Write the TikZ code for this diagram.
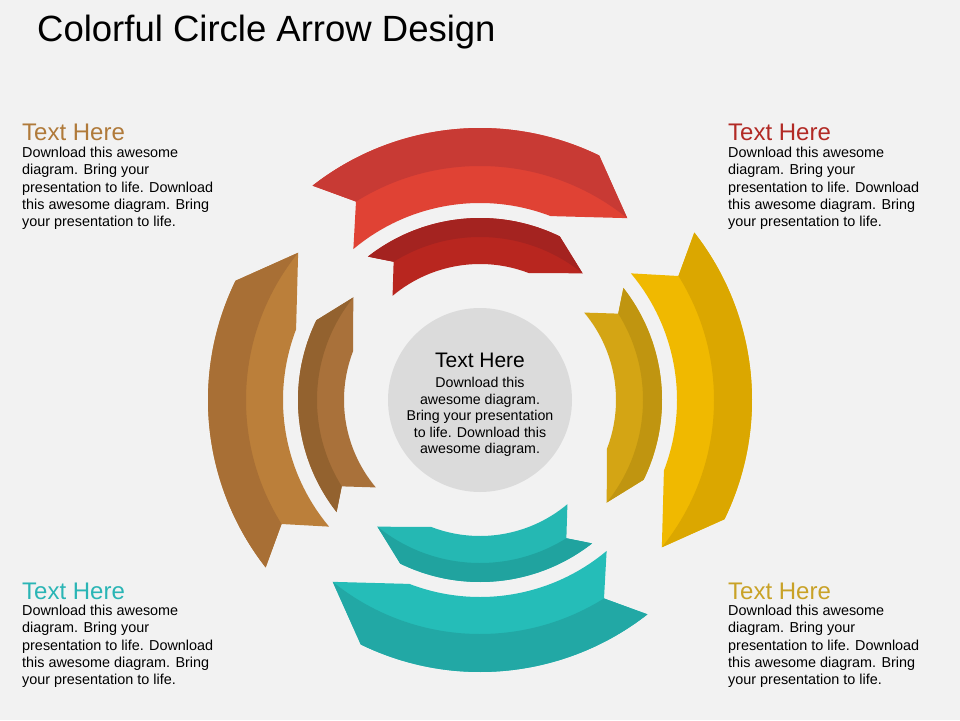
\documentclass[tikz,border=0pt]{standalone}
\usepackage{fontspec}
\setmainfont{Liberation Sans}
\definecolor{bg}{HTML}{F2F2F2}
\definecolor{rOd}{HTML}{C83A34}\definecolor{rOl}{HTML}{E04234}
\definecolor{rId}{HTML}{A42320}\definecolor{rIl}{HTML}{B8261F}
\definecolor{yOd}{HTML}{DBA700}\definecolor{yOl}{HTML}{F0B900}
\definecolor{yId}{HTML}{C09510}\definecolor{yIl}{HTML}{D4A514}
\definecolor{tOd}{HTML}{22A8A5}\definecolor{tOl}{HTML}{25BDB8}
\definecolor{tId}{HTML}{20A39F}\definecolor{tIl}{HTML}{25B8B3}
\definecolor{bOd}{HTML}{A86F35}\definecolor{bOl}{HTML}{BB7F3A}
\definecolor{bId}{HTML}{93622F}\definecolor{bIl}{HTML}{A9713A}
\definecolor{hBr}{HTML}{B07A3A}\definecolor{hRe}{HTML}{B22A25}
\definecolor{hTe}{HTML}{2AB5B5}\definecolor{hGo}{HTML}{C9A227}
% #1 rot, #2 Ri, #3 Rm, #4 Ro, #5 unused, #6 light, #7 dark
\newcommand{\arrowband}[7]{%
\begin{scope}[rotate=#1]
\fill[#6] (130:#2) -- (122:#3) -- (128:#4) arc[start angle=128,end angle=64,radius=#4]
  -- (51:#3) -- (69:#2) arc[start angle=69,end angle=130,radius=#2] -- cycle;
\fill[#7] (122:#3) -- (128:#4) arc[start angle=128,end angle=64,radius=#4]
  -- (51:#3) arc[start angle=51,end angle=122,radius=#3] -- cycle;
\end{scope}}
\tikzset{head/.style={anchor=base west,font=\fontsize{24}{28}\selectfont},
 body/.style={anchor=north west,align=left,inner sep=0pt,font=\fontsize{14.4}{17.3}\selectfont}}
\begin{document}
\begin{tikzpicture}[x=1pt,y=1pt]
\fill[bg] (-480,-320) rectangle (480,400);
\useasboundingbox (-480,-320) rectangle (480,400);
\node[anchor=base west,inner sep=0pt,font=\fontsize{36.5}{42}\selectfont] (title) at (-443,358) {Colorful Circle Arrow Design};
\arrowband{0}{197}{234}{272}{277}{rOl}{rOd}
\arrowband{-90}{197}{234}{272}{277}{yOl}{yOd}
\arrowband{-180}{197}{234}{272}{277}{tOl}{tOd}
\arrowband{-270}{197}{234}{272}{277}{bOl}{bOd}
\arrowband{0}{136}{163}{182}{192}{rIl}{rId}
\arrowband{-90}{136}{163}{182}{192}{yIl}{yId}
\arrowband{-180}{136}{163}{182}{192}{tIl}{tId}
\arrowband{-270}{136}{163}{182}{192}{bIl}{bId}
\fill[gray!28] (0,0) circle (92);
\node[font=\fontsize{21}{24}\selectfont] (ct) at (0,40) {Text Here};
\node[align=center,font=\fontsize{14.2}{16.5}\selectfont] (cb) at (0,-17) {Download this\\awesome diagram.\\Bring your presentation\\to life. Download this\\awesome diagram.};
\node[head,text=hBr,inner sep=0pt] (h1) at (-458,259) {Text Here};
\node[body] (b1) at (-458,253) {Download this awesome\\diagram. Bring your\\presentation to life. Download\\this awesome diagram. Bring\\your presentation to life.};
\node[head,text=hRe,inner sep=0pt] (h2) at (248,259) {Text Here};
\node[body] (b2) at (248,253) {Download this awesome\\diagram. Bring your\\presentation to life. Download\\this awesome diagram. Bring\\your presentation to life.};
\node[head,text=hTe,inner sep=0pt] (h3) at (-458,-199) {Text Here};
\node[body] (b3) at (-458,-205) {Download this awesome\\diagram. Bring your\\presentation to life. Download\\this awesome diagram. Bring\\your presentation to life.};
\node[head,text=hGo,inner sep=0pt] (h4) at (248,-199) {Text Here};
\node[body] (b4) at (248,-205) {Download this awesome\\diagram. Bring your\\presentation to life. Download\\this awesome diagram. Bring\\your presentation to life.};
\end{tikzpicture}
\end{document}
